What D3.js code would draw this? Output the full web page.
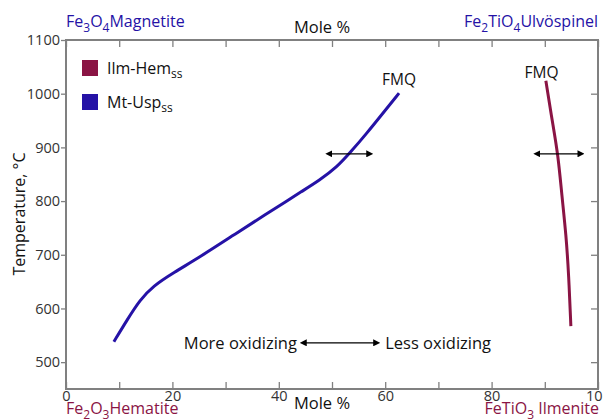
<!DOCTYPE html>
<html>
<head>
<meta charset="utf-8">
<script src="https://cdn.jsdelivr.net/npm/d3@7"></script>
<style>
  body { margin: 0; background: #fff; }
  svg text { font-family: "Open Sans", sans-serif; }
</style>
</head>
<body>
<svg id="chart" width="603" height="419"></svg>
<script>
// Mt-Usp solid solution (mole %, temperature)
const mtUspMole = [9.0, 11.5, 13.9, 16.4, 20.1, 25.2, 31.4, 37.8, 41.5, 44.0, 47.7, 50.9, 53.4, 56.6, 59.6, 62.6];
const mtUspTemp = [538, 579, 616, 642, 666, 696, 736, 777, 800, 816, 839, 863, 890, 927, 964, 1001];

// Ilm-Hem solid solution
const ilmHemMole = [90.2, 91.4, 92.5, 93.2, 94.0, 94.5, 94.9];
const ilmHemTemp = [1024, 949, 886, 811, 737, 662, 567];

const xTicks = [0, 20, 40, 60, 80, 100];
const yTicks = [500, 600, 700, 800, 900, 1000, 1100];

const blue = "#2512a6";
const red = "#8a1444";
const axisGrey = "#808080";

const svg = d3.select("#chart");
const x = d3.scaleLinear().domain([0, 100]).range([66, 598]);
const y = d3.scaleLinear().domain([450, 1100]).range([389, 40]);

// frame
svg.append("rect")
    .attr("x", 66).attr("y", 40)
    .attr("width", 532).attr("height", 349)
    .attr("fill", "none")
    .attr("stroke", axisGrey)
    .attr("stroke-width", 2);

function styleAxis(g) {
    g.select(".domain").remove();
    g.selectAll("line").attr("stroke", axisGrey).attr("stroke-width", 1.3);
    g.selectAll("text").attr("fill", "#333").style("font-size", "14.5px");
}

// bottom axis, ticks inward
svg.append("g")
    .attr("transform", "translate(0,389)")
    .call(d3.axisBottom(x).tickValues(d3.range(0, 101, 10)).tickSize(-7).tickPadding(2)
        .tickFormat(d => xTicks.includes(d) ? d : ""))
    .call(styleAxis);

// top axis, ticks inward
svg.append("g")
    .attr("transform", "translate(0,40)")
    .call(d3.axisTop(x).tickValues(d3.range(0, 101, 10)).tickSize(-7).tickFormat(""))
    .call(styleAxis);

// left axis
svg.append("g")
    .attr("transform", "translate(66,0)")
    .call(d3.axisLeft(y).tickValues(yTicks).tickSize(5).tickPadding(1).tickFormat(d3.format("d")))
    .call(styleAxis);

// right axis, ticks inward
svg.append("g")
    .attr("transform", "translate(598,0)")
    .call(d3.axisRight(y).tickValues(yTicks.slice(0, -1)).tickSize(-7).tickFormat(""))
    .call(styleAxis);

// curves
const line = d3.line().x(d => x(d[0])).y(d => y(d[1])).curve(d3.curveBasis);

svg.append("path")
    .datum(d3.zip(mtUspMole, mtUspTemp))
    .attr("d", line)
    .attr("fill", "none")
    .attr("stroke", blue)
    .attr("stroke-width", 3);

svg.append("path")
    .datum(d3.zip(ilmHemMole, ilmHemTemp))
    .attr("d", line)
    .attr("fill", "none")
    .attr("stroke", red)
    .attr("stroke-width", 3);

// arrow heads
const defs = svg.append("defs");
["start", "end"].forEach(k => {
    defs.append("marker")
        .attr("id", "arr-" + k)
        .attr("viewBox", "0 0 10 10")
        .attr("refX", 5).attr("refY", 5)
        .attr("markerWidth", 7).attr("markerHeight", 7)
        .attr("markerUnits", "userSpaceOnUse")
        .attr("orient", k === "start" ? "auto-start-reverse" : "auto")
        .append("path")
        .attr("d", "M0,0 L10,5 L0,10 Z")
        .attr("fill", "#000");
});

function dblArrow(x1, x2, t) {
    svg.append("line")
        .attr("x1", x(x1)).attr("x2", x(x2))
        .attr("y1", y(t)).attr("y2", y(t))
        .attr("stroke", "#000")
        .attr("stroke-width", 1.3)
        .attr("marker-start", "url(#arr-start)")
        .attr("marker-end", "url(#arr-end)");
}
dblArrow(49.4, 57.1, 888);
dblArrow(88.5, 96.8, 888);
dblArrow(44.6, 58.4, 536);

function txt(xp, yp, s, opts = {}) {
    return svg.append("text")
        .attr("x", xp).attr("y", yp)
        .attr("text-anchor", opts.anchor || "start")
        .attr("fill", opts.fill || "#111")
        .style("font-size", (opts.size || 16) + "px")
        .text(s);
}

txt(x(43.4), y(536) + 6, "More oxidizing", { anchor: "end", size: 16.5 });
txt(x(60), y(536) + 6, "Less oxidizing", { size: 16.5 });
txt(x(59.4), y(1016), "FMQ", { size: 15.5 });
txt(x(86.2), y(1030), "FMQ", { size: 15.5 });

// chemical formula labels with subscripts
function formula(xp, yp, parts, color, anchor) {
    const t = svg.append("text")
        .attr("x", xp).attr("y", yp)
        .attr("text-anchor", anchor || "start")
        .attr("fill", color)
        .style("font-size", "16px");
    let low = false;
    parts.forEach(p => {
        const sub = Array.isArray(p);
        const ts = t.append("tspan").text(sub ? p[0] : p);
        if (sub) {
            ts.style("font-size", "12px");
            if (!low) ts.attr("dy", 5);
        } else if (low) {
            ts.attr("dy", -5);
        }
        low = sub;
    });
    return t;
}

formula(66, 27, ["Fe", ["3"], "O", ["4"], "Magnetite"], blue);
formula(598, 27, ["Fe", ["2"], "TiO", ["4"], "Ulvöspinel"], blue, "end");
formula(66, 414, ["Fe", ["2"], "O", ["3"], "Hematite"], red);
formula(599, 414, ["FeTiO", ["3"], " Ilmenite"], red, "end");

txt(322, 33, "Mole %", { anchor: "middle", size: 16.5 });
txt(322, 409, "Mole %", { anchor: "middle", size: 16.5 });

svg.append("text")
    .attr("transform", "translate(25,214) rotate(-90)")
    .attr("text-anchor", "middle")
    .attr("fill", "#111")
    .style("font-size", "16px")
    .text("Temperature, °C");

// legend
const legendItems = [
    { name: "Ilm-Hem", color: red, y: 60 },
    { name: "Mt-Usp", color: blue, y: 94 }
];
legendItems.forEach(d => {
    svg.append("rect")
        .attr("x", 82).attr("y", d.y)
        .attr("width", 16).attr("height", 16)
        .attr("fill", d.color);
    const t = svg.append("text")
        .attr("x", 107).attr("y", d.y + 14)
        .attr("fill", "#111")
        .style("font-size", "16px");
    t.append("tspan").text(d.name);
    t.append("tspan").attr("dy", 4).style("font-size", "12px").text("ss");
});
</script>
</body>
</html>
